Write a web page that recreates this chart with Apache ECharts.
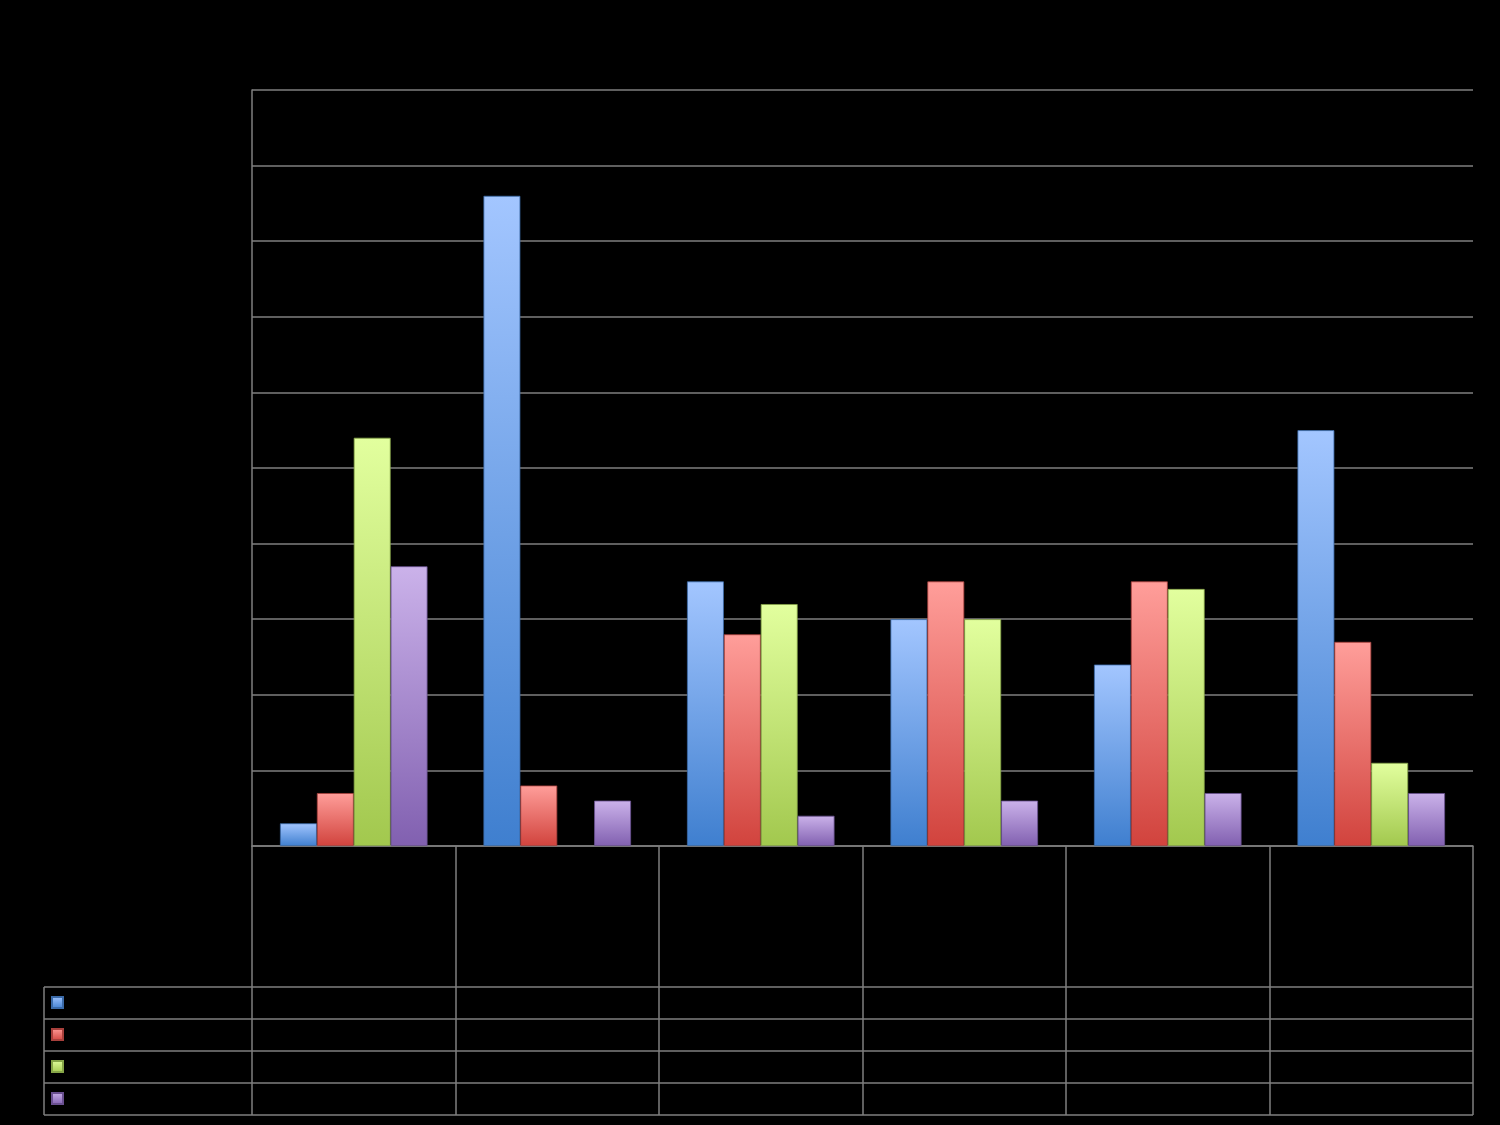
<!DOCTYPE html>
<html>
<head>
<meta charset="utf-8">
<script src="https://cdn.jsdelivr.net/npm/echarts@6/dist/echarts.min.js"></script>
<style>
html,body{margin:0;padding:0;background:#000;}
#chart{width:1500px;height:1125px;}
</style>
</head>
<body>
<div id="chart"></div>
<script>
const categories = ['1', '2', '3', '4', '5', '6'];
const seriesNames = ['Series 1', 'Series 2', 'Series 3', 'Series 4'];
const series1 = [0.3, 8.6, 3.5, 3.0, 2.4, 5.5];
const series2 = [0.7, 0.8, 2.8, 3.5, 3.5, 2.7];
const series3 = [5.4, 0, 3.2, 3.0, 3.4, 1.1];
const series4 = [3.7, 0.6, 0.4, 0.6, 0.7, 0.7];
const yMin = 0, yMax = 10, yInterval = 1;

const W = 1500, H = 1125;
const gridLeft = 252, gridRight = 1473, gridTop = 90, gridBottom = 846;
const tableTop = 987, rowH = 32, nRows = 4, tableLeft = 44;
const lineColor = '#7f7f7f';

const palettes = [
  ['#a3c6ff', '#3f7fcf'],
  ['#ff9e9a', '#d1433d'],
  ['#e2ff9e', '#a2c84e'],
  ['#cbb2ea', '#8160b0']
];
const borders = ['#3a6aa8', '#a8403c', '#86a548', '#6a5090'];
function grad(c) {
  return {type: 'linear', x: 0, y: 0, x2: 0, y2: 1, colorStops: [{offset: 0, color: c[0]}, {offset: 1, color: c[1]}]};
}
const datas = [series1, series2, series3, series4];

const graphics = [];
for (let i = 0; i <= nRows; i++) {
  const y = tableTop + i * rowH;
  graphics.push({type: 'line', shape: {x1: tableLeft, y1: y, x2: gridRight, y2: y}, style: {stroke: lineColor, lineWidth: 1.5}, silent: true});
}
graphics.push({type: 'line', shape: {x1: tableLeft, y1: tableTop, x2: tableLeft, y2: tableTop + nRows * rowH}, style: {stroke: lineColor, lineWidth: 1.5}, silent: true});

const chart = echarts.init(document.getElementById('chart'), null, {renderer: 'canvas'});
chart.setOption({
  backgroundColor: '#000',
  animation: false,
  grid: {left: gridLeft, right: W - gridRight, top: gridTop, bottom: H - gridBottom, containLabel: false},
  legend: {
    orient: 'vertical', left: 51, top: tableTop + 9, padding: 0,
    icon: 'rect',
    itemWidth: 11, itemHeight: 11, itemGap: 19,
    textStyle: {fontSize: 8, lineHeight: 11},
    formatter: () => '',
    data: seriesNames
  },
  xAxis: {
    type: 'category', data: categories,
    axisLine: {show: true, lineStyle: {color: lineColor, width: 1.5}},
    axisTick: {show: true, length: tableTop + nRows * rowH - gridBottom, lineStyle: {color: lineColor, width: 1.5}},
    axisLabel: {show: false},
    splitLine: {show: false}
  },
  yAxis: {
    type: 'value', min: yMin, max: yMax, interval: yInterval,
    axisLine: {show: true, lineStyle: {color: lineColor, width: 1.5}},
    axisTick: {show: false},
    axisLabel: {show: false},
    splitLine: {show: true, lineStyle: {color: lineColor, width: 1.5}}
  },
  series: datas.map((d, i) => ({
    name: seriesNames[i], type: 'bar',
    data: d.map(v => v === 0 ? {value: v, itemStyle: {borderWidth: 0, opacity: 0}} : v),
    barGap: '0%', barCategoryGap: '27.5%',
    itemStyle: {color: grad(palettes[i]), borderColor: borders[i], borderWidth: 0.8}
  })),
  graphic: graphics
});
</script>
</body>
</html>
